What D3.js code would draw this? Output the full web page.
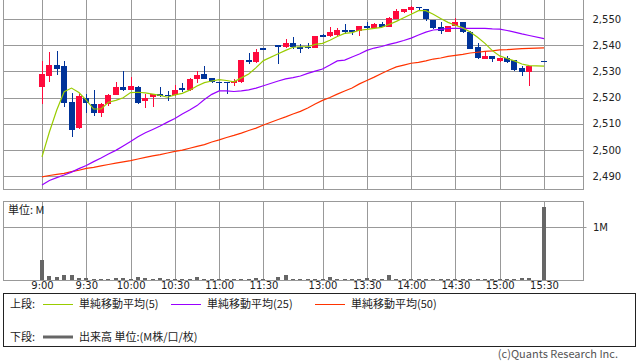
<!DOCTYPE html>
<html>
<head>
<meta charset="utf-8">
<script src="https://cdn.jsdelivr.net/npm/d3@7"></script>
<style>
body { margin: 0; background: #fff; }
svg { display: block; font-family: "DejaVu Sans", sans-serif; }
.jp { font-family: "Noto Sans CJK JP", "DejaVu Sans", sans-serif; }
</style>
</head>
<body>
<svg id="chart" width="638" height="362"></svg>
<script>
// 5-minute slots, "" is the lunch break gap
const slots = [
    "9:00","9:05","9:10","9:15","9:20","9:25","9:30","9:35","9:40","9:45","9:50","9:55",
    "10:00","10:05","10:10","10:15","10:20","10:25","10:30","10:35","10:40","10:45","10:50","10:55",
    "11:00","11:05","11:10","11:15","11:20","11:25","11:30",
    "",
    "12:30","12:35","12:40","12:45","12:50","12:55",
    "13:00","13:05","13:10","13:15","13:20","13:25","13:30","13:35","13:40","13:45","13:50","13:55",
    "14:00","14:05","14:10","14:15","14:20","14:25","14:30","14:35","14:40","14:45","14:50","14:55",
    "15:00","15:05","15:10","15:15","15:20","15:25","15:30"
];
const timeTicks = ["9:00","9:30","10:00","10:30","11:00","11:30","13:00","13:30","14:00","14:30","15:00","15:30"];
const priceTicks = [2490, 2500, 2510, 2520, 2530, 2540, 2550];
const volumeTicks = [1];

const opens = [
    2524, 2528.2, 2532.4, 2532, 2518.4, 2508.2, 2519.9, 2517.5, 2514.2, 2517.4, 2521, 2524,
    2522.9, 2524.1, 2518.8, 2520.3, 2521.2, 2521, 2521, 2523.5, 2522.9, 2527.1, 2529, 2527.3,
    2526, 2526, 2525.4, 2526, 2534.3, 2533.6, 2538.8,
    null,
    2540.1, 2539.2, 2541, 2539.4, 2539.4, 2539,
    2543.9, 2543.5, 2543.9, 2545.8, 2545.8, 2545.5, 2547.3, 2546.7, 2548.1, 2547.1, 2550, 2552.8,
    2553.4, 2554.7, 2553.8, 2549.6, 2546.8, 2545.1, 2547.4, 2548.7, 2545.1, 2539.2, 2534.7, 2535.9,
    2534, 2535, 2534.3, 2531.3, 2529.9, null, 2533.9
];
const highs = [
    2534, 2537.5, 2537.8, 2534, 2521.6, 2521.2, 2521.2, 2522.9, 2517.8, 2521.3, 2526, 2530.1,
    2527.7, 2524.4, 2521.2, 2521.3, 2523.9, 2522.5, 2524.8, 2525.4, 2527.3, 2530.2, 2532, 2527.6,
    2526, 2526, 2527, 2534.3, 2537.1, 2538.4, 2538.8,
    null,
    2540.1, 2542.4, 2543.2, 2540.4, 2540.7, 2543.5,
    2544.1, 2546.8, 2546.7, 2548.1, 2545.8, 2547.3, 2548.7, 2548.4, 2548.7, 2550.6, 2553.8, 2553.8,
    2555, 2554.7, 2553.8, 2549.6, 2548.7, 2547.3, 2550.3, 2548.7, 2545.5, 2540.7, 2537.8, 2535.9,
    2535.2, 2535.9, 2534.3, 2532, 2532, null, 2533.9
];
const lows = [
    2517.5, 2526, 2528.6, 2516.3, 2505, 2508, 2514, 2512.9, 2512.7, 2516.8, 2521, 2522.6,
    2522.9, 2517.4, 2516.1, 2516.5, 2520.1, 2518.8, 2520.7, 2522.2, 2522.6, 2525.4, 2527.1, 2525.4,
    2522.6, 2521.2, 2524.5, 2525.7, 2532.7, 2533.3, 2538.6,
    null,
    2532.7, 2538.8, 2538.5, 2536.9, 2538.6, 2539,
    2543, 2543.2, 2543.5, 2544.3, 2543.9, 2543.6, 2546.1, 2546.4, 2546.8, 2547.1, 2550, 2552.2,
    2552.2, 2553.4, 2549.4, 2546.1, 2544.2, 2545.1, 2547.4, 2544.8, 2538.5, 2534.7, 2534.7, 2533.6,
    2533.4, 2533.3, 2530.1, 2528.2, 2524.4, null, 2533.8
];
const closes = [
    2529, 2532.4, 2531, 2517.8, 2507.6, 2520.7, 2517.8, 2514.2, 2517.5, 2521, 2523.9, 2522.9,
    2524.4, 2518, 2519.9, 2521.3, 2520.6, 2520.5, 2522.9, 2522.9, 2527.1, 2528.6, 2527.1, 2526,
    2525.4, 2525.4, 2526.3, 2534.3, 2533.6, 2537.5, 2538.7,
    null,
    2539.2, 2541, 2539.4, 2538.6, 2538.9, 2543.5,
    2543.2, 2545.2, 2545.8, 2545, 2545, 2547.3, 2546.7, 2548.1, 2547.1, 2550.3, 2553.1, 2553.8,
    2554.7, 2554.3, 2549.9, 2546.4, 2545.5, 2547.3, 2548.7, 2545.1, 2538.5, 2535.2, 2535.9, 2534.7,
    2535.2, 2533.6, 2530.5, 2529.9, 2532, null, 2533.8
];
// volume in millions
const volumes = [
    0.38, 0.075, 0.057, 0.094, 0.094, 0.04, 0.04, 0.02, 0.02, 0.02, 0.04, 0.04,
    0.02, 0.057, 0.04, 0.02, 0.04, 0.01, 0.01, 0.01, 0.01, 0.057, 0.02, 0.01,
    0.02, 0.02, 0.01, 0.02, 0.02, 0.04, 0.01,
    null,
    0.057, 0.094, 0.02, 0.02, 0.01, 0.02,
    0.02, 0.057, 0.02, 0.02, 0.01, 0.02, 0.04, 0.01, 0.01, 0.094, 0.02, 0.01,
    0.02, 0.02, 0.02, 0.02, 0.02, 0.01, 0.02, 0.01, 0.01, 0.02, 0.02, 0.01,
    0.02, 0.02, 0.02, 0.04, 0.04, null, 1.37
];
const ma5 = [
    2497.3, 2506.8, 2515.2, 2522.2, 2523.6, 2521.9, 2519.0, 2515.6, 2515.6, 2518.2, 2518.9, 2519.9,
    2521.9, 2522.0, 2521.8, 2521.3, 2520.8, 2520.1, 2521.0, 2521.6, 2522.8, 2524.4, 2525.7, 2526.3,
    2526.8, 2526.5, 2526.0, 2527.5, 2529.0, 2531.4, 2534.1,
    null,
    2536.7, 2538.0, 2539.2, 2539.4, 2539.4, 2540.3,
    2540.7, 2541.9, 2543.3, 2544.5, 2544.8, 2545.7, 2546.0, 2546.4, 2546.8, 2547.9, 2549.1, 2550.5,
    2551.8, 2553.2, 2553.2, 2551.8, 2550.2, 2548.7, 2547.6, 2546.6, 2545.0, 2543.0, 2540.7, 2537.9,
    2535.9, 2534.9, 2534.0, 2532.8, 2532.2, null, 2532.0
];
const ma25 = [
    2486.6, 2488.3, 2489.4, 2490.4, 2491.5, 2492.8, 2494.0, 2495.5, 2496.9, 2498.4, 2499.8, 2501.5,
    2503.2, 2505.0, 2506.5, 2507.8, 2509.1, 2510.6, 2512.0, 2513.7, 2515.2, 2516.9, 2519.2, 2521.2,
    2522.5, 2522.5, 2522.3, 2522.5, 2522.9, 2523.6, 2524.5,
    null,
    2526.3, 2527.1, 2527.6, 2528.2, 2529.2, 2530.1,
    2530.9, 2532.4, 2534.0, 2534.3, 2535.5, 2536.6, 2538.0, 2538.9, 2539.5, 2540.3, 2541.0, 2541.8,
    2542.7, 2543.9, 2545.0, 2545.8, 2546.0, 2546.4, 2546.4, 2546.4, 2546.4, 2546.4, 2546.4, 2546.2,
    2546.1, 2545.6, 2545.0, 2544.3, 2543.7, null, 2542.5
];
const ma50 = [
    2489.7, 2490.2, 2490.6, 2491.0, 2491.7, 2492.2, 2492.9, 2493.3, 2493.9, 2494.4, 2494.9, 2495.4,
    2495.9, 2496.5, 2497.1, 2497.7, 2498.2, 2498.8, 2499.4, 2499.9, 2500.6, 2501.3, 2502.0, 2503.0,
    2503.8, 2504.7, 2505.5, 2506.4, 2507.4, 2508.3, 2509.5,
    null,
    2511.6, 2512.6, 2513.7, 2514.7, 2516.0, 2517.5,
    2518.9, 2520.0, 2521.3, 2522.5, 2523.6, 2525.2, 2526.5, 2527.8, 2529.2, 2530.5, 2531.7, 2532.4,
    2533.1, 2533.4, 2534.0, 2534.7, 2535.1, 2535.7, 2536.1, 2536.5, 2537.0, 2537.3, 2537.6, 2537.8,
    2538.2, 2538.3, 2538.5, 2538.7, 2538.8, null, 2539.0
];

const upColor = "#ff0a3c";
const downColor = "#003399";
const gridColor = "#999";

const svg = d3.select("#chart");
svg.append("rect").attr("width", 638).attr("height", 362).attr("fill", "#fff");

const frameLeft = 3.5, frameRight = 583.5;
const mainTop = -1, mainBottom = 189.5;
const volTop = 201.5, volBottom = 280.5;

const x = d3.scaleLinear().domain([0, slots.length - 1]).range([42, 544]);
const y = d3.scaleLinear().domain([2490, 2550]).range([176, 19]);
const yv = d3.scaleLinear().domain([0, 1]).range([280, 227]);

const px = v => Math.round(v) + 0.5;

// grid: main panel
const gMain = svg.append("g");
gMain.selectAll(".hgrid")
    .data(priceTicks)
    .join("line")
    .attr("x1", frameLeft).attr("x2", frameRight)
    .attr("y1", d => px(y(d))).attr("y2", d => px(y(d)))
    .attr("stroke", gridColor);
gMain.selectAll(".vgrid")
    .data(timeTicks)
    .join("line")
    .attr("x1", d => px(x(slots.indexOf(d)))).attr("x2", d => px(x(slots.indexOf(d))))
    .attr("y1", mainTop).attr("y2", mainBottom)
    .attr("stroke", gridColor);
gMain.append("rect")
    .attr("x", frameLeft).attr("y", mainTop)
    .attr("width", frameRight - frameLeft).attr("height", mainBottom - mainTop)
    .attr("fill", "none").attr("stroke", gridColor);

// price axis on the right
const yAxis = d3.axisRight(y).tickValues(priceTicks).tickSize(0).tickPadding(9)
    .tickFormat(d3.format(","));
svg.append("g")
    .attr("transform", `translate(${frameRight},0)`)
    .call(yAxis)
    .call(g => g.select(".domain").remove())
    .call(g => g.selectAll("text").attr("font-size", 10).attr("fill", "#222")
        .attr("font-family", "DejaVu Sans"));

// candles
const candles = slots.map((t, i) => ({ i, o: opens[i], h: highs[i], l: lows[i], c: closes[i] }))
    .filter(d => d.o != null);
const gCandle = svg.append("g").attr("shape-rendering", "crispEdges");
gCandle.selectAll(".wick")
    .data(candles)
    .join("rect")
    .attr("x", d => Math.round(x(d.i)) - 0.5)
    .attr("width", 1)
    .attr("y", d => y(d.h))
    .attr("height", d => Math.max(1, y(d.l) - y(d.h)))
    .attr("fill", d => d.c > d.o ? upColor : downColor);
gCandle.selectAll(".body")
    .data(candles)
    .join("rect")
    .attr("x", d => Math.round(x(d.i)) - 3)
    .attr("width", 6)
    .attr("y", d => y(Math.max(d.o, d.c)))
    .attr("height", d => Math.max(1.2, Math.abs(y(d.o) - y(d.c))))
    .attr("fill", d => d.c > d.o ? upColor : downColor);

// moving averages
function drawMA(arr, color) {
    const pts = arr.map((v, i) => ({ i, v })).filter(d => d.v != null);
    svg.append("path")
        .datum(pts)
        .attr("fill", "none")
        .attr("stroke", color)
        .attr("stroke-width", 1.2)
        .attr("d", d3.line().x(d => x(d.i)).y(d => y(d.v)));
}
drawMA(ma50, "#ff3300");
drawMA(ma25, "#9900ff");
drawMA(ma5, "#99cc00");

// volume panel
const gVol = svg.append("g");
gVol.selectAll(".hgrid")
    .data(volumeTicks)
    .join("line")
    .attr("x1", frameLeft).attr("x2", frameRight + 3)
    .attr("y1", d => px(yv(d))).attr("y2", d => px(yv(d)))
    .attr("stroke", gridColor);
gVol.selectAll(".vgrid")
    .data(timeTicks)
    .join("line")
    .attr("x1", d => px(x(slots.indexOf(d)))).attr("x2", d => px(x(slots.indexOf(d))))
    .attr("y1", volTop).attr("y2", volBottom)
    .attr("stroke", gridColor);
gVol.append("rect")
    .attr("x", frameLeft).attr("y", volTop)
    .attr("width", frameRight - frameLeft).attr("height", volBottom - volTop)
    .attr("fill", "none").attr("stroke", gridColor);

const vols = slots.map((t, i) => ({ i, v: volumes[i] })).filter(d => d.v != null);
gVol.append("g").attr("shape-rendering", "crispEdges")
    .selectAll("rect")
    .data(vols)
    .join("rect")
    .attr("x", d => Math.round(x(d.i)) - 2)
    .attr("width", 4)
    .attr("y", d => yv(d.v))
    .attr("height", d => Math.max(0.6, yv(0) - yv(d.v)))
    .attr("fill", "#666");

gVol.selectAll(".vlabel")
    .data(volumeTicks)
    .join("text")
    .attr("x", 593).attr("y", d => yv(d) + 4)
    .attr("font-size", 10).attr("fill", "#222")
    .text(d => d + "M");
svg.append("text").attr("class", "jp")
    .attr("x", 8).attr("y", 213.5)
    .attr("font-size", 11).attr("fill", "#222")
    .text("単位: M");

// time axis
const xAxis = d3.axisBottom(x)
    .tickValues(timeTicks.map(t => slots.indexOf(t)))
    .tickFormat(i => slots[i])
    .tickSize(0).tickPadding(0);
svg.append("g")
    .attr("transform", "translate(0,282)")
    .call(xAxis)
    .call(g => g.select(".domain").remove())
    .call(g => g.selectAll("text").attr("dy", "0.71em").attr("font-size", 10)
        .attr("fill", "#222").attr("font-family", "DejaVu Sans"));

// legend
svg.append("rect")
    .attr("x", 3.5).attr("y", 293.5).attr("width", 632).attr("height", 53)
    .attr("fill", "none").attr("stroke", "#222");
const legendTop = [
    { label: "単純移動平均(5)", color: "#99cc00", x: 43 },
    { label: "単純移動平均(25)", color: "#9900ff", x: 171 },
    { label: "単純移動平均(50)", color: "#ff3300", x: 315 }
];
svg.append("text").attr("class", "jp").attr("x", 10).attr("y", 308)
    .attr("font-size", 11).attr("fill", "#222").text("上段:");
legendTop.forEach(d => {
    svg.append("line")
        .attr("x1", d.x).attr("x2", d.x + 30).attr("y1", 304.5).attr("y2", 304.5)
        .attr("stroke", d.color);
    svg.append("text").attr("class", "jp").attr("x", d.x + 36).attr("y", 308)
        .attr("font-size", 11).attr("fill", "#222").text(d.label);
});
svg.append("text").attr("class", "jp").attr("x", 10).attr("y", 341)
    .attr("font-size", 11).attr("fill", "#222").text("下段:");
svg.append("line")
    .attr("x1", 43).attr("x2", 73).attr("y1", 337).attr("y2", 337)
    .attr("stroke", "#666").attr("stroke-width", 3);
svg.append("text").attr("class", "jp").attr("x", 79).attr("y", 341)
    .attr("font-size", 11).attr("fill", "#222").text("出来高 単位:(M株/口/枚)");

svg.append("text").attr("class", "jp")
    .attr("x", 618).attr("y", 358).attr("text-anchor", "end")
    .attr("font-size", 11).attr("fill", "#555")
    .text("(c)Quants Research Inc.");
</script>
</body>
</html>
